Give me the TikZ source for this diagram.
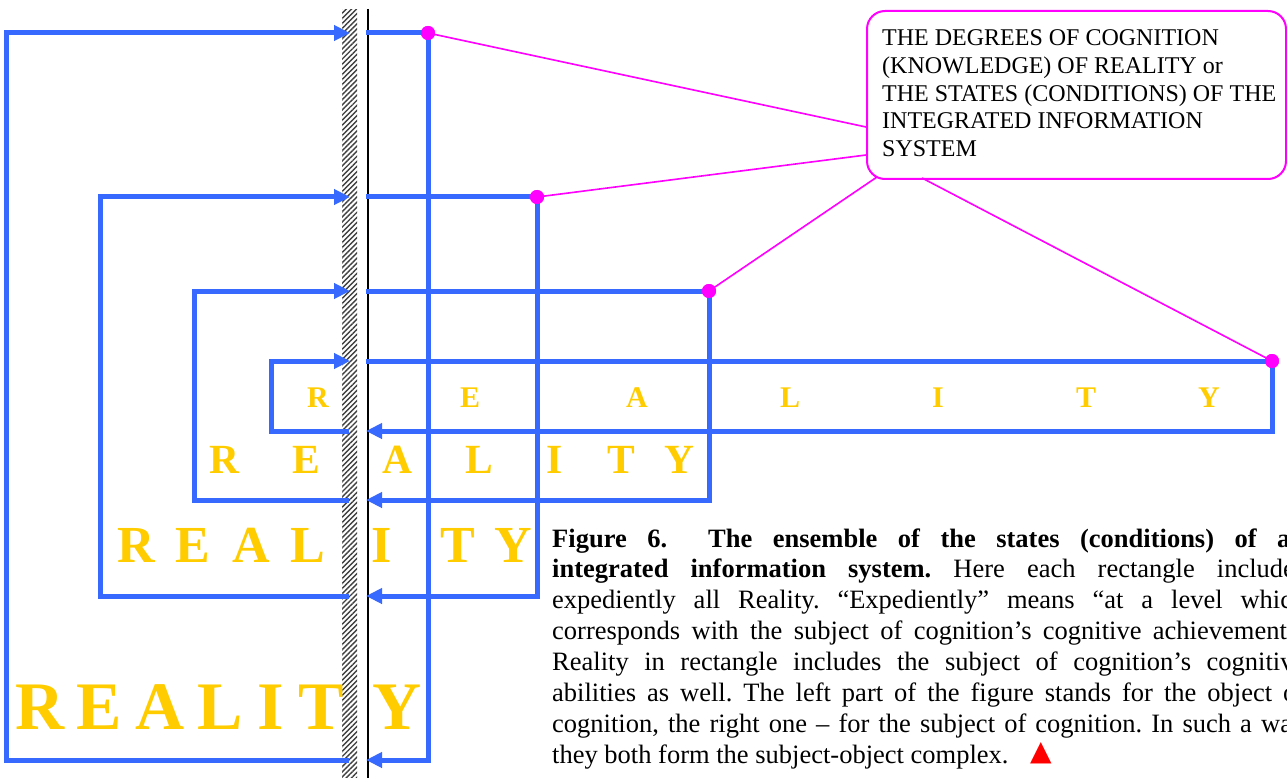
\documentclass[tikz,border=0pt]{standalone}
\usepackage{fontspec}
\setmainfont{Liberation Serif}
\newfontfamily\symfont{DejaVu Sans}
\usetikzlibrary{arrows.meta,patterns.meta}
\definecolor{rblue}{RGB}{55,105,255}
\definecolor{rgold}{RGB}{255,204,0}
\definecolor{rmag}{RGB}{255,0,255}
\frenchspacing
\begin{document}
\begin{tikzpicture}[x=1pt,y=-1pt,
  wire/.style={draw=rblue,line width=5pt,line join=miter},
  arr/.style={wire,-{Triangle[length=16pt,width=15pt]}},
  conn/.style={draw=rmag,line width=1.6pt},
  dot/.style={circle,fill=rmag,inner sep=0pt,minimum size=14pt},
  ltA/.style={anchor=base,inner sep=0pt,text=rgold,font=\fontsize{68}{80}\selectfont\bfseries},
  ltB/.style={anchor=base,inner sep=0pt,text=rgold,font=\fontsize{52}{60}\selectfont\bfseries},
  ltC/.style={anchor=base,inner sep=0pt,text=rgold,font=\fontsize{41.5}{48}\selectfont\bfseries},
  ltD/.style={anchor=base,inner sep=0pt,text=rgold,font=\fontsize{30}{36}\selectfont\bfseries},
  boxline/.style={anchor=base west,inner sep=0pt,font=\fontsize{24}{27.6}\selectfont},
  capline/.style={anchor=base west,inner sep=0pt,font=\fontsize{26.5}{30.9}\selectfont},
]
\useasboundingbox (0,0) rectangle (1287,778);

% hatched strip and black line
\fill[pattern={Lines[angle=45,distance=3.6pt,line width=1.4pt]},pattern color=black!75] (342,10) rectangle (357,778);
\draw[line width=2pt] (368,9) -- (368,778);

% rectangle corners
\foreach \n/\L/\T/\B/\R in {1/6/33/760/428, 2/100/197/596/537, 3/194/291/500/709, 4/271/361/431/1272}{
  \coordinate (tl\n) at (\L,\T);
  \coordinate (bl\n) at (\L,\B);
  \coordinate (tr\n) at (\R,\T);
  \coordinate (br\n) at (\R,\B);
  \coordinate (ta\n) at (350,\T);
  \coordinate (ts\n) at (366,\T);
  \coordinate (ba\n) at (366,\B);
  \coordinate (bs\n) at (349,\B);
}
\foreach \n in {1,2,3,4}{
  \draw[arr] (bs\n) -- (bl\n) -- (tl\n) -- (ta\n);
  \draw[arr] (ts\n) -- (tr\n) -- (br\n) -- (ba\n);
}

% letters
\foreach \l/\x [count=\i] in {R/40,E/99,A/160,L/220,I/271,T/321,Y/397}
  \node[ltA] (ra\i) at (\x,729) {\l};
\foreach \l/\x [count=\i] in {R/136,E/193,A/251,L/308,I/382,T/458,Y/513}
  \node[ltB] (rb\i) at (\x,562) {\l};
\foreach \l/\x [count=\i] in {R/224,E/306,A/397,L/479,I/555,T/621,Y/679}
  \node[ltC] (rc\i) at (\x,473) {\l};
\foreach \l/\x [count=\i] in {R/318,E/470,A/637,L/790,I/938,T/1086,Y/1209}
  \node[ltD] (rd\i) at (\x,407) {\l};

% callout box
\node[draw=rmag,line width=2pt,rounded corners=18pt,minimum width=419pt,minimum height=168pt,anchor=north west,inner sep=0pt] (box) at (866,10) {};
\node[boxline] (bt1) at (882,46) {THE DEGREES OF COGNITION};
\node[boxline] (bt2) at (882,73.6) {(KNOWLEDGE) OF REALITY or};
\node[boxline] (bt3) at (882,101.2) {THE STATES (CONDITIONS) OF THE};
\node[boxline] (bt4) at (882,128.8) {INTEGRATED INFORMATION};
\node[boxline] (bt5) at (882,156.4) {SYSTEM};

\coordinate (b1) at (866,127);
\coordinate (b2) at (866,155);
\coordinate (b3) at (877,177);
\coordinate (b4) at (922,178);

\node[dot] (d1) at (tr1) {};
\node[dot] (d2) at (tr2) {};
\node[dot] (d3) at (tr3) {};
\node[dot] (d4) at (tr4) {};
\draw[conn] (d1.center) -- (b1);
\draw[conn] (d2.center) -- (b2);
\draw[conn] (d3.center) -- (b3);
\draw[conn] (d4.center) -- (b4);
\node[dot] at (tr1) {};
\node[dot] at (tr2) {};
\node[dot] at (tr3) {};
\node[dot] at (tr4) {};

% caption
\node[capline] (c1) at (552,547) {\makebox[753pt][s]{\bfseries Figure 6.\ \ The ensemble of the states (conditions) of an}};
\node[capline] (c2) at (552,577.9) {\makebox[753pt][s]{\textbf{integrated information system.} Here each rectangle includes}};
\node[capline] (c3) at (552,608.8) {\makebox[753pt][s]{expediently all Reality. “Expediently” means “at a level which}};
\node[capline] (c4) at (552,639.7) {\makebox[753pt][s]{corresponds with the subject of cognition’s cognitive achievement”.}};
\node[capline] (c5) at (552,670.6) {\makebox[753pt][s]{Reality in rectangle includes the subject of cognition’s cognitive}};
\node[capline] (c6) at (552,701.5) {\makebox[753pt][s]{abilities as well. The left part of the figure stands for the object of}};
\node[capline] (c7) at (552,732.4) {\makebox[753pt][s]{cognition, the right one – for the subject of cognition. In such a way}};
\node[capline] (c8) at (552,763.3) {they both form the subject-object complex.};
\node[anchor=base,inner sep=0pt,text=red,font=\symfont\fontsize{28}{30}\selectfont] (tri) at (1041,760) {▲};
\end{tikzpicture}
\end{document}
